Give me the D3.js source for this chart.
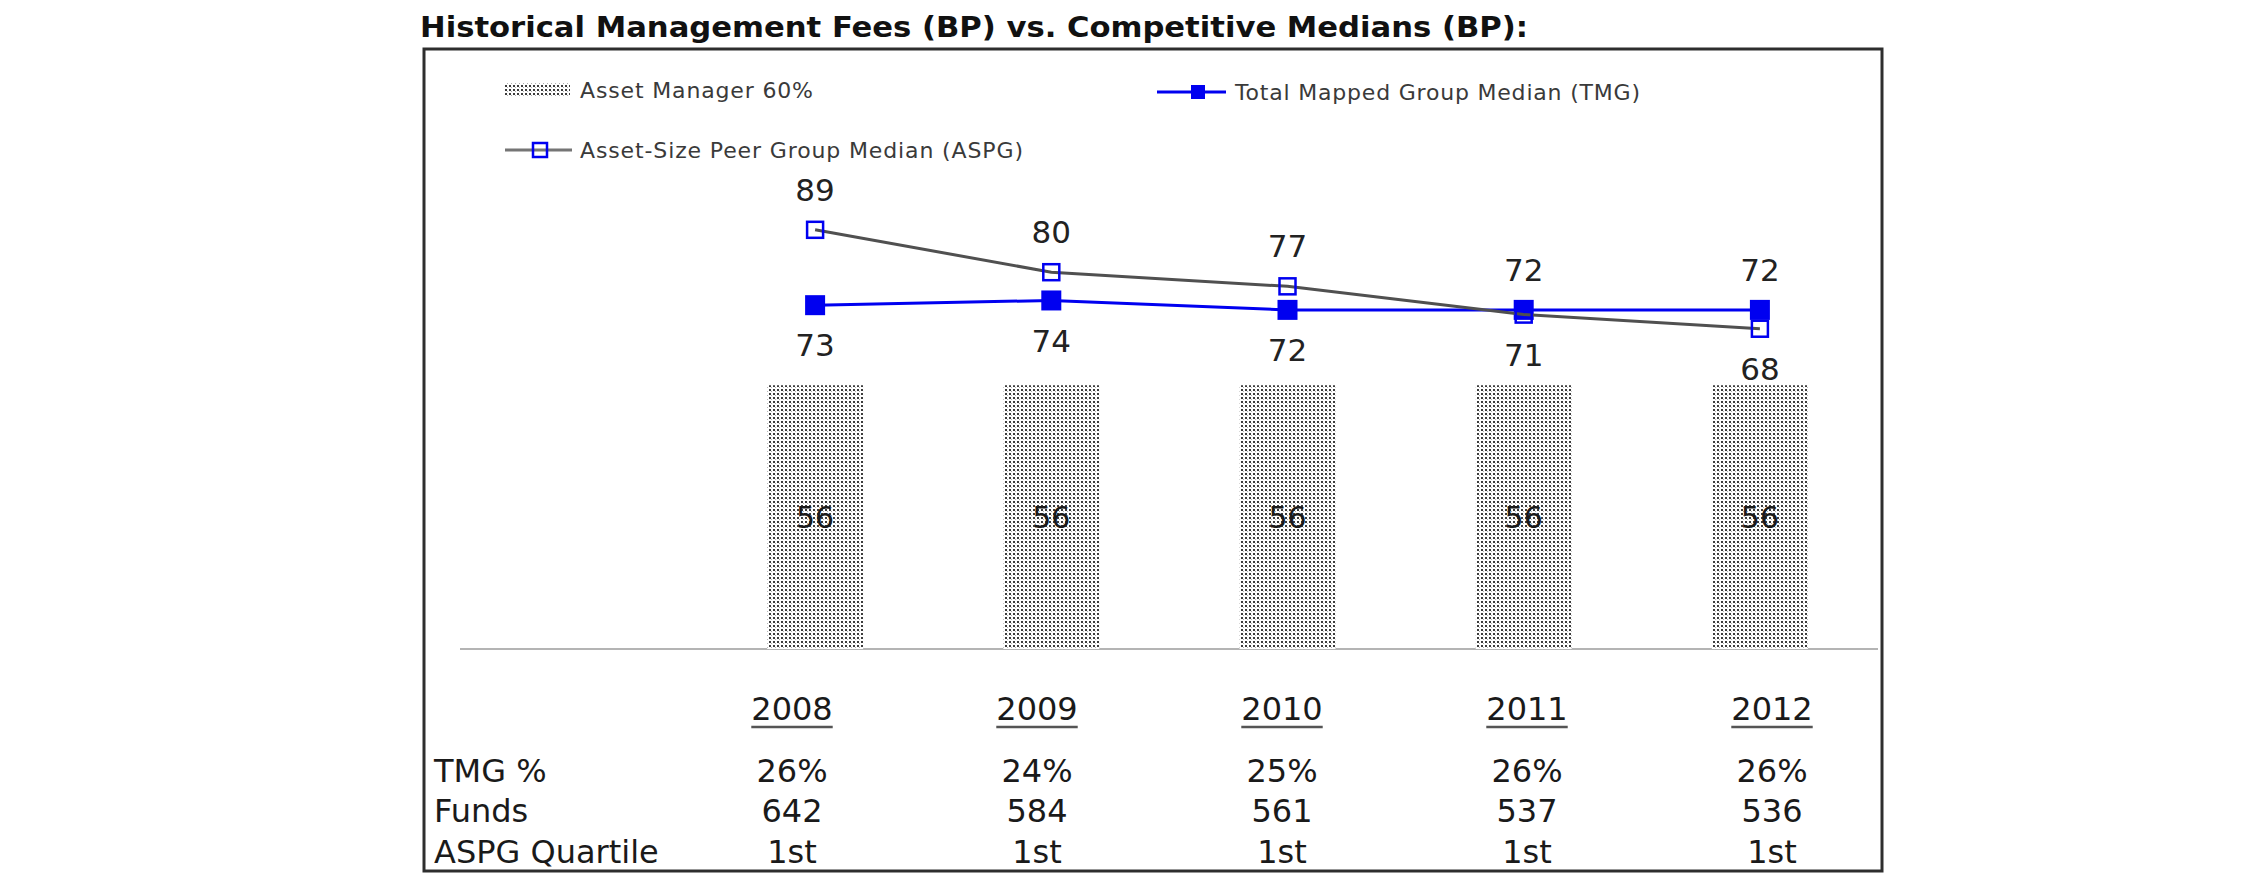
<!DOCTYPE html>
<html><head><meta charset="utf-8">
<script src="https://cdn.jsdelivr.net/npm/d3@7"></script>
<style>body{margin:0;background:#fff} svg{display:block}</style>
</head><body>
<svg id="chart" width="2250" height="895"></svg>
<script>
// ---- data ----
const years = ["2008", "2009", "2010", "2011", "2012"];
const assetManager = [56, 56, 56, 56, 56];
const tmgMedian = [73, 74, 72, 72, 72];
const aspgMedian = [89, 80, 77, 71, 68];
const rowLabels = ["TMG %", "Funds", "ASPG Quartile"];
const tmgPct = ["26%", "24%", "25%", "26%", "26%"];
const funds = ["642", "584", "561", "537", "536"];
const aspgQuartile = ["1st", "1st", "1st", "1st", "1st"];
const seriesNames = ["Asset Manager 60%", "Total Mapped Group Median (TMG)", "Asset-Size Peer Group Median (ASPG)"];
const titleText = "Historical Management Fees (BP) vs. Competitive Medians (BP):";

// ---- setup ----
const svg = d3.select("#chart");
const FONT = "'DejaVu Sans', Verdana, sans-serif";
const BLUE = "#0000f0";

const defs = svg.append("defs");
const pat = defs.append("pattern").attr("id", "dots").attr("patternUnits", "userSpaceOnUse")
  .attr("width", 4).attr("height", 4);
pat.append("rect").attr("width", 4).attr("height", 4).attr("fill", "#fff");
pat.append("rect").attr("x", 1).attr("y", 1).attr("width", 2).attr("height", 2).attr("fill", "#3c3c3c");
pat.append("rect").attr("x", 3).attr("y", 3).attr("width", 1).attr("height", 1).attr("fill", "#b0b0b0");

// title
svg.append("text").attr("x", 420).attr("y", 37)
  .attr("font-family", "'DejaVu Sans Condensed', 'DejaVu Sans', sans-serif")
  .attr("font-weight", "bold").attr("font-size", 29).attr("fill", "#111")
  .attr("textLength", 1108).attr("lengthAdjust", "spacingAndGlyphs")
  .text(titleText);

// frame
svg.append("rect").attr("x", 424).attr("y", 49).attr("width", 1458).attr("height", 822)
  .attr("fill", "#fff").attr("stroke", "#2e2e2e").attr("stroke-width", 3);

// scales
const x = d3.scaleBand().domain(years).range([697, 1878]);
const y = d3.scaleLinear().domain([0, 100]).range([649, 178]);
const cx = d => x(d) + x.bandwidth() / 2;
const barW = 96;

// baseline
svg.append("line").attr("x1", 460).attr("x2", 1878).attr("y1", y(0)).attr("y2", y(0))
  .attr("stroke", "#b4b4b4").attr("stroke-width", 2);

// bars
const barData = years.map((yr, i) => ({yr, v: assetManager[i]}));
svg.append("g").selectAll("rect").data(barData).join("rect")
  .attr("x", d => cx(d.yr) - barW / 2).attr("width", barW)
  .attr("y", d => y(d.v)).attr("height", d => y(0) - y(d.v))
  .attr("fill", "url(#dots)");
svg.append("g").selectAll("text").data(barData).join("text")
  .attr("x", d => cx(d.yr)).attr("y", d => y(d.v / 2)).attr("dy", "0.36em")
  .attr("text-anchor", "middle").attr("font-family", FONT).attr("font-size", 30)
  .attr("fill", "#1a1a1a").text(d => d.v);

// lines
const tmgData = years.map((yr, i) => ({yr, v: tmgMedian[i]}));
const aspgData = years.map((yr, i) => ({yr, v: aspgMedian[i]}));
const line = d3.line().x(d => cx(d.yr)).y(d => y(d.v));

svg.append("path").datum(tmgData).attr("d", line).attr("fill", "none")
  .attr("stroke", BLUE).attr("stroke-width", 3);
svg.append("g").selectAll("rect").data(tmgData).join("rect")
  .attr("x", d => cx(d.yr) - 10).attr("y", d => y(d.v) - 10)
  .attr("width", 20).attr("height", 20).attr("fill", BLUE);

svg.append("path").datum(aspgData).attr("d", line).attr("fill", "none")
  .attr("stroke", "#505050").attr("stroke-width", 3);
svg.append("g").selectAll("rect").data(aspgData).join("rect")
  .attr("x", d => cx(d.yr) - 8).attr("y", d => y(d.v) - 8)
  .attr("width", 16).attr("height", 16).attr("fill", "none")
  .attr("stroke", BLUE).attr("stroke-width", 2.5);

// data labels: higher value above, lower value below
const lblG = svg.append("g").attr("font-family", FONT).attr("font-size", 31)
  .attr("fill", "#222").attr("text-anchor", "middle");
years.forEach((yr, i) => {
  const a = aspgMedian[i], t = tmgMedian[i];
  const hi = Math.max(a, t), lo = Math.min(a, t);
  lblG.append("text").attr("x", cx(yr)).attr("y", y(hi) - 40).attr("dy", "0.36em").text(hi);
  lblG.append("text").attr("x", cx(yr)).attr("y", y(lo) + 40).attr("dy", "0.36em").text(lo);
});

// legend
const lg = svg.append("g").attr("font-family", FONT).attr("font-size", 22).attr("fill", "#3a3a3a");
lg.append("rect").attr("x", 505).attr("y", 83).attr("width", 65).attr("height", 14).attr("fill", "url(#dots)");
lg.append("text").attr("x", 580).attr("y", 90).attr("dy", "0.36em")
  .attr("textLength", 233).attr("lengthAdjust", "spacing").text(seriesNames[0]);

lg.append("line").attr("x1", 1157).attr("x2", 1226).attr("y1", 92).attr("y2", 92)
  .attr("stroke", BLUE).attr("stroke-width", 3);
lg.append("rect").attr("x", 1191).attr("y", 85).attr("width", 14).attr("height", 14).attr("fill", BLUE);
lg.append("text").attr("x", 1235).attr("y", 92).attr("dy", "0.36em")
  .attr("textLength", 405).attr("lengthAdjust", "spacing").text(seriesNames[1]);

lg.append("line").attr("x1", 505).attr("x2", 572).attr("y1", 150).attr("y2", 150)
  .attr("stroke", "#757575").attr("stroke-width", 3);
lg.append("rect").attr("x", 533).attr("y", 143).attr("width", 14).attr("height", 14)
  .attr("fill", "none").attr("stroke", BLUE).attr("stroke-width", 2.5);
lg.append("text").attr("x", 580).attr("y", 150).attr("dy", "0.36em")
  .attr("textLength", 443).attr("lengthAdjust", "spacing").text(seriesNames[2]);

// table below chart
const xt = d3.scalePoint().domain(years).range([792, 1772]);
const tg = svg.append("g").attr("font-family", FONT).attr("font-size", 32).attr("fill", "#1a1a1a");
years.forEach(yr => {
  const t = tg.append("text").attr("x", xt(yr)).attr("y", 720).attr("text-anchor", "middle").text(yr);
  const w = t.node().getComputedTextLength();
  tg.append("line").attr("x1", xt(yr) - w / 2).attr("x2", xt(yr) + w / 2)
    .attr("y1", 727).attr("y2", 727).attr("stroke", "#555").attr("stroke-width", 2.5);
});
const rows = [tmgPct, funds, aspgQuartile];
const rowY = [782, 822, 863];
rows.forEach((r, ri) => {
  tg.append("text").attr("x", 434).attr("y", rowY[ri]).text(rowLabels[ri]);
  r.forEach((v, i) => {
    tg.append("text").attr("x", xt(years[i])).attr("y", rowY[ri]).attr("text-anchor", "middle").text(v);
  });
});
</script>
</body></html>
